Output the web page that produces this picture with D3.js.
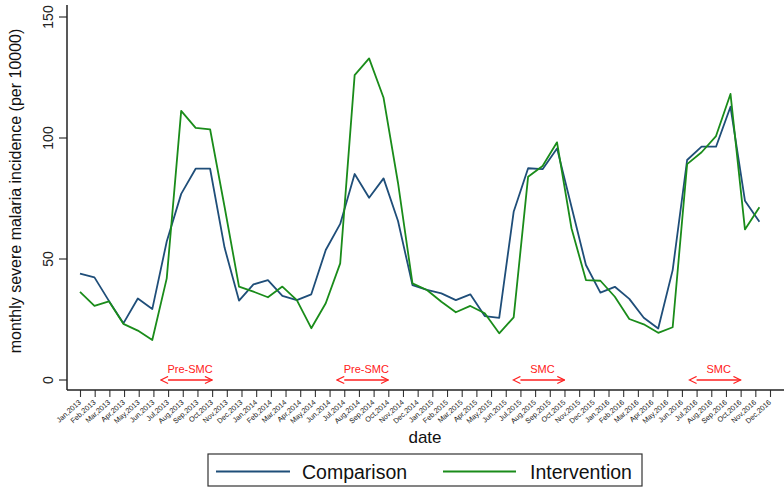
<!DOCTYPE html>
<html>
<head>
<meta charset="utf-8">
<script src="https://cdn.jsdelivr.net/npm/d3@7"></script>
<style>
  html, body { margin: 0; padding: 0; background: #ffffff; }
  svg { display: block; font-family: Arial, "Liberation Sans", sans-serif; }
</style>
</head>
<body>
<svg id="chart" width="784" height="489"></svg>
<script>
const months = [
  "Jan,2013","Feb,2013","Mar,2013","Apr,2013","May,2013","Jun,2013","Jul,2013","Aug,2013","Sep,2013","Oct,2013","Nov,2013","Dec,2013",
  "Jan,2014","Feb,2014","Mar,2014","Apr,2014","May,2014","Jun,2014","Jul,2014","Aug,2014","Sep,2014","Oct,2014","Nov,2014","Dec,2014",
  "Jan,2015","Feb,2015","Mar,2015","Apr,2015","May,2015","Jun,2015","Jul,2015","Aug,2015","Sep,2015","Oct,2015","Nov,2015","Dec,2015",
  "Jan,2016","Feb,2016","Mar,2016","Apr,2016","May,2016","Jun,2016","Jul,2016","Aug,2016","Sep,2016","Oct,2016","Nov,2016","Dec,2016"
];
const comparison = [
  43.7, 42.2, 32.5, 23.2, 33.5, 29.1, 57.0, 76.7, 87.1, 87.1, 54.5, 32.6,
  39.3, 41.1, 34.6, 32.8, 35.2, 53.5, 64.3, 84.9, 75.1, 83.1, 65.5, 39.0,
  37.0, 35.6, 32.8, 35.2, 26.2, 25.5, 69.3, 87.3, 86.9, 95.5, 71.4, 47.3,
  35.9, 38.3, 33.3, 25.5, 21.1, 45.2, 90.7, 96.2, 96.2, 112.7, 73.9, 65.2
];
const intervention = [
  36.2, 30.4, 32.3, 23.0, 20.2, 16.3, 41.8, 111.0, 104.0, 103.4, 71.4, 38.4,
  36.3, 34.0, 38.4, 32.8, 21.2, 31.5, 48.0, 125.8, 132.7, 116.4, 81.2, 39.7,
  37.0, 32.1, 27.8, 30.4, 27.4, 19.1, 25.7, 83.8, 88.2, 98.0, 62.5, 41.1,
  40.8, 34.2, 25.0, 22.8, 19.3, 21.6, 89.0, 93.9, 100.6, 118.0, 62.0, 71.2
];
const yTicks = [0, 50, 100, 150];
const seriesNames = ["Comparison", "Intervention"];
const seriesColors = ["#1f4e79", "#1a8c1a"];
const annotations = [
  { label: "Pre-SMC", from: "Jul,2013", to: "Oct,2013" },
  { label: "Pre-SMC", from: "Jul,2014", to: "Oct,2014" },
  { label: "SMC", from: "Jul,2015", to: "Oct,2015" },
  { label: "SMC", from: "Jul,2016", to: "Oct,2016" }
];

const svg = d3.select("#chart");
const axisX0 = 67, axisY0 = 390;

// scales
const xData = d3.scaleLinear().domain([0, months.length - 1]).range([80, 759.4]);
const xTick = d3.scalePoint().domain(months).range([80, 770]);
const y = d3.scaleLinear().domain([0, 150]).range([379.5, 16.5]);

// defs: arrow markers
const defs = svg.append("defs");
["start", "end"].forEach(k => {
  defs.append("marker")
    .attr("id", "arr-" + k)
    .attr("viewBox", "0 0 10 10")
    .attr("refX", k === "end" ? 9 : 1).attr("refY", 5)
    .attr("markerWidth", 9).attr("markerHeight", 9)
    .attr("markerUnits", "userSpaceOnUse")
    .attr("orient", "auto-start-reverse")
    .append("path")
    .attr("d", "M1,1 L9,5 L1,9")
    .attr("fill", "none").attr("stroke", "#ff2020").attr("stroke-width", 1.3);
});

// Y axis
const yAxis = d3.axisLeft(y).tickValues(yTicks).tickSize(8).tickPadding(4);
const gy = svg.append("g").attr("transform", `translate(${axisX0},0)`).call(yAxis);
gy.select(".domain").remove();
gy.selectAll(".tick line").attr("stroke", "#333").attr("stroke-width", 1.2);
gy.selectAll(".tick text")
  .attr("font-size", 14).attr("fill", "#222")
  .attr("text-anchor", "middle")
  .attr("x", null).attr("dy", null)
  .attr("transform", "translate(-14,0) rotate(-90)");
svg.append("line").attr("x1", axisX0).attr("x2", axisX0).attr("y1", 5).attr("y2", axisY0)
  .attr("stroke", "#222").attr("stroke-width", 1.5);

// X axis
const xAxis = d3.axisBottom(xTick).tickSize(7).tickPadding(2);
const gx = svg.append("g").attr("transform", `translate(0,${axisY0})`).call(xAxis);
gx.select(".domain").remove();
gx.selectAll(".tick line").attr("stroke", "#333").attr("stroke-width", 1.1);
gx.selectAll(".tick text")
  .attr("font-size", 7.3).attr("fill", "#222")
  .attr("text-anchor", "end")
  .attr("y", null).attr("dy", null)
  .attr("transform", "translate(1,13) rotate(-42)");
svg.append("line").attr("x1", axisX0).attr("x2", 784).attr("y1", axisY0).attr("y2", axisY0)
  .attr("stroke", "#222").attr("stroke-width", 1.5);

// axis titles
svg.append("text").attr("transform", "translate(21,191) rotate(-90)")
  .attr("text-anchor", "middle").attr("font-size", 16).attr("fill", "#111")
  .text("monthly severe malaria incidence (per 10000)");
svg.append("text").attr("x", 425).attr("y", 443)
  .attr("text-anchor", "middle").attr("font-size", 17).attr("fill", "#111")
  .text("date");

// lines
const line = d3.line().x((d, i) => xData(i)).y(d => y(d));
[comparison, intervention].forEach((s, k) => {
  svg.append("path").datum(s)
    .attr("d", line)
    .attr("fill", "none")
    .attr("stroke", seriesColors[k])
    .attr("stroke-width", 1.8)
    .attr("stroke-linejoin", "round");
});

// annotations
const ann = svg.append("g");
annotations.forEach(a => {
  const x1 = xTick(a.from), x2 = xTick(a.to);
  ann.append("line")
    .attr("x1", x1).attr("x2", x2).attr("y1", 380).attr("y2", 380)
    .attr("stroke", "#ff2020").attr("stroke-width", 1.3)
    .attr("marker-start", "url(#arr-start)").attr("marker-end", "url(#arr-end)");
  ann.append("text")
    .attr("x", (x1 + x2) / 2).attr("y", 373)
    .attr("text-anchor", "middle").attr("font-size", 11).attr("fill", "#ff2020")
    .text(a.label);
});

// legend
const lg = svg.append("g");
lg.append("rect").attr("x", 208).attr("y", 454).attr("width", 434).attr("height", 32)
  .attr("fill", "#fff").attr("stroke", "#333").attr("stroke-width", 1.2);
const legendItems = [
  { x1: 216, x2: 290, tx: 302 },
  { x1: 443, x2: 516, tx: 530 }
];
seriesNames.forEach((n, k) => {
  const it = legendItems[k];
  lg.append("line").attr("x1", it.x1).attr("x2", it.x2).attr("y1", 471.5).attr("y2", 471.5)
    .attr("stroke", seriesColors[k]).attr("stroke-width", 1.8);
  lg.append("text").attr("x", it.tx).attr("y", 478.5)
    .attr("font-size", 19.5).attr("fill", "#111").text(n);
});
</script>
</body>
</html>
